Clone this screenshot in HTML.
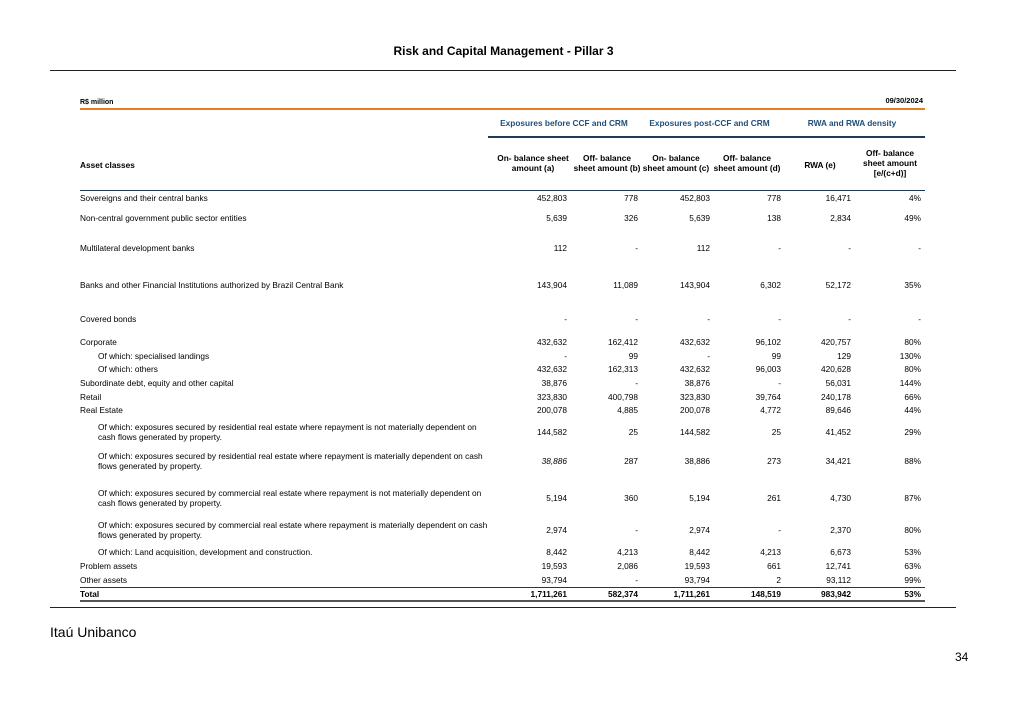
<!DOCTYPE html>
<html><head><meta charset="utf-8"><style>
body{margin:0;background:#fff;font-family:"Liberation Sans",Arial,sans-serif;color:#000}
#page{position:relative;width:1019px;height:720px;overflow:hidden}
.a{position:absolute;white-space:nowrap}
.t{font-size:8.3px;line-height:10.5px}
.n{font-size:8.3px;line-height:10px;text-align:right;width:70px}
.h{font-size:8.3px;line-height:10px;font-weight:bold;text-align:center}
.g{font-size:8.3px;font-weight:bold;color:#1f4e79;text-align:center}
.ln{position:absolute;height:0}
</style></head><body>
<div id="page">
<div class="a" style="left:0;width:1007px;top:44px;text-align:center;font-weight:bold;font-size:12px">Risk and Capital Management - Pillar 3</div>
<div class="ln" style="left:50px;width:906px;top:70px;border-top:1.5px solid #222"></div>
<div class="a t" style="left:80px;top:98px;font-weight:bold;font-size:7px">R$ million</div>
<div class="a t" style="left:855px;width:68px;text-align:right;top:96px;font-weight:bold;font-size:7.5px">09/30/2024</div>
<div class="ln" style="left:80px;width:845px;top:108px;border-top:2px solid #e67e22"></div>
<div class="a g" style="left:490px;width:148px;top:118px">Exposures before CCF and CRM</div>
<div class="a g" style="left:638px;width:143px;top:118px">Exposures post-CCF and CRM</div>
<div class="a g" style="left:781px;width:142px;top:118px">RWA and RWA density</div>
<div class="ln" style="left:488px;width:437px;top:136px;border-top:2px solid #1f3b57"></div>
<div class="a h" style="left:80px;top:160px;text-align:left">Asset classes</div>
<div class="a h" style="left:495px;width:76px;top:153px">On- balance sheet<br>amount (a)</div>
<div class="a h" style="left:571px;width:72px;top:153px">Off- balance<br>sheet amount (b)</div>
<div class="a h" style="left:640px;width:72px;top:153px">On- balance<br>sheet amount (c)</div>
<div class="a h" style="left:710px;width:74px;top:153px">Off- balance<br>sheet amount (d)</div>
<div class="a h" style="left:795px;width:50px;top:160px">RWA (e)</div>
<div class="a h" style="left:852px;width:76px;top:148px">Off- balance<br>sheet amount<br>[e/(c+d)]</div>
<div class="ln" style="left:80px;width:845px;top:190px;border-top:1.5px solid #1f3b57"></div>
<div id="rows"></div>
<div class="ln" style="left:80px;width:845px;top:587px;border-top:1px solid #333"></div>
<div class="ln" style="left:80px;width:845px;top:600px;border-top:2px solid #555"></div>
<div class="ln" style="left:50px;width:906px;top:607px;border-top:1.5px solid #222"></div>
<div class="a" style="left:50px;top:624px;font-size:14px">Itaú Unibanco</div>
<div class="a" style="left:955px;top:650px;font-size:12px">34</div>
</div>
<script>
const labels=["Sovereigns and their central banks","Non-central government public sector entities","Multilateral development banks","Banks and other Financial Institutions authorized by Brazil Central Bank","Covered bonds","Corporate","Of which: specialised landings","Of which: others","Subordinate debt, equity and other capital","Retail","Real Estate","Of which: exposures secured by residential real estate where repayment is not materially dependent on<br>cash flows generated by property.","Of which: exposures secured by residential real estate where repayment is materially dependent on cash<br>flows generated by property.","Of which: exposures secured by commercial real estate where repayment is not materially dependent on<br>cash flows generated by property.","Of which: exposures secured by commercial real estate where repayment is materially dependent on cash<br>flows generated by property.","Of which: Land acquisition, development and construction.","Problem assets","Other assets","Total"];
const colA=["452,803","5,639","112","143,904","-","432,632","-","432,632","38,876","323,830","200,078","144,582","38,886","5,194","2,974","8,442","19,593","93,794","1,711,261"];
const colB=["778","326","-","11,089","-","162,412","99","162,313","-","400,798","4,885","25","287","360","-","4,213","2,086","-","582,374"];
const colC=["452,803","5,639","112","143,904","-","432,632","-","432,632","38,876","323,830","200,078","144,582","38,886","5,194","2,974","8,442","19,593","93,794","1,711,261"];
const colD=["778","138","-","6,302","-","96,102","99","96,003","-","39,764","4,772","25","273","261","-","4,213","661","2","148,519"];
const colE=["16,471","2,834","-","52,172","-","420,757","129","420,628","56,031","240,178","89,646","41,452","34,421","4,730","2,370","6,673","12,741","93,112","983,942"];
const colF=["4%","49%","-","35%","-","80%","130%","80%","144%","66%","44%","29%","88%","87%","80%","53%","63%","99%","53%"];
const rowY=[198,218,248,285,319,342,356,369,383,397,410,432,461,498,530,552,566,580,594];
const indent=[0,0,0,0,0,0,1,1,0,0,0,1,1,1,1,1,0,0,0];
const colRight=[567,638,710,781,851,921];
const host=document.getElementById('rows');
const cols=[colA,colB,colC,colD,colE,colF];
labels.forEach((lab,i)=>{
  const two=lab.indexOf('<br>')>=0;
  const l=document.createElement('div');
  l.className='a t';
  
  
  l.innerHTML=lab;
  l.style.left=(indent[i]?98:80)+'px';
  l.style.top=(rowY[i]-(two?10.5:5.5))+'px';
  if(i===labels.length-1)l.style.fontWeight='bold';
  host.appendChild(l);
  cols.forEach((c,j)=>{
    const d=document.createElement('div');
    d.className='a n';
    
    
    d.textContent=c[i];
    d.style.left=(colRight[j]-70)+'px';
    d.style.top=(rowY[i]-5)+'px';
    if(i===labels.length-1)d.style.fontWeight='bold';
    if(i===12&&j===0)d.style.fontStyle='italic';
    host.appendChild(d);
  });
});
</script>
</body></html>
